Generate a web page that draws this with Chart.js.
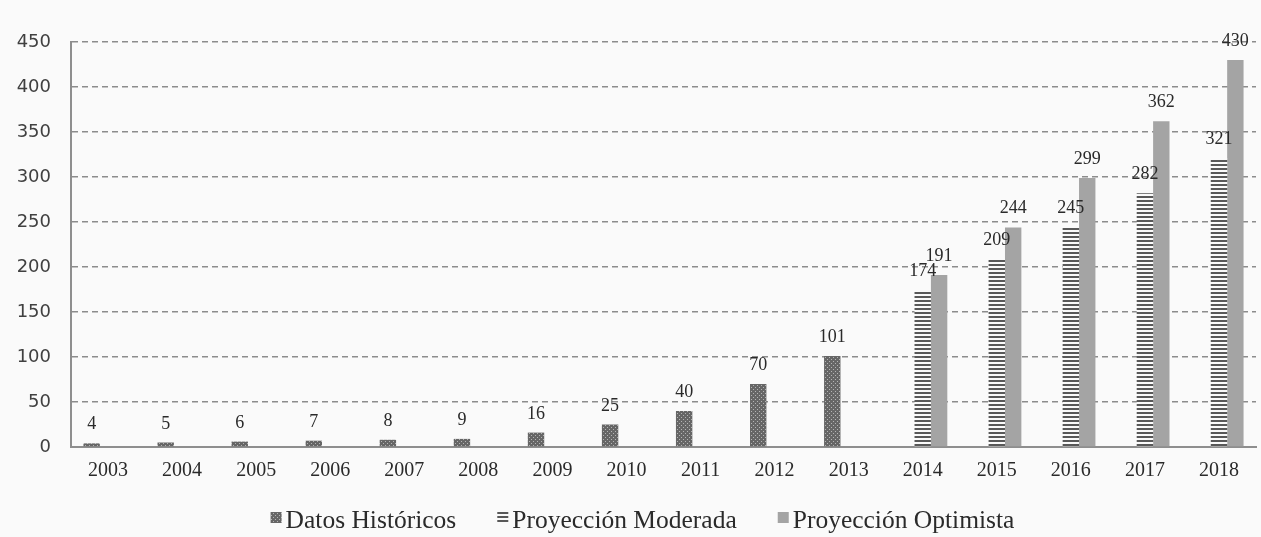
<!DOCTYPE html>
<html>
<head>
<meta charset="utf-8">
<script src="https://cdn.jsdelivr.net/npm/chart.js@4.4.1/dist/chart.umd.min.js"></script>
<style>
  html, body { margin: 0; padding: 0; background: #fafafa; }
  canvas { display: block; }
</style>
</head>
<body>
<canvas id="chart" width="1261" height="537"></canvas>
<script>
// Years on the category axis
const years = ['2003','2004','2005','2006','2007','2008','2009','2010','2011','2012','2013','2014','2015','2016','2017','2018'];

// Series values (null where a series has no bar for that year)
const historicos = [4, 5, 6, 7, 8, 9, 16, 25, 40, 70, 101, null, null, null, null, null];
const moderada   = [null, null, null, null, null, null, null, null, null, null, null, 174, 209, 245, 282, 321];
const optimista  = [null, null, null, null, null, null, null, null, null, null, null, 191, 244, 299, 362, 430];

// Series names
const seriesNames = ['Datos Históricos', 'Proyección Moderada', 'Proyección Optimista'];

// Value axis range
const yMin = 0, yMax = 450, yStep = 50;

// --- fill patterns -------------------------------------------------------
function makePattern(w, h, paint) {
  const c = document.createElement('canvas');
  c.width = w; c.height = h;
  const g = c.getContext('2d');
  paint(g);
  return document.getElementById('chart').getContext('2d').createPattern(c, 'repeat');
}

// dark gray with light dots
const dottedFill = makePattern(4, 4, g => {
  g.fillStyle = '#666666'; g.fillRect(0, 0, 4, 4);
  g.fillStyle = '#b4b4b4';
  g.fillRect(1, 1, 1, 1);
  g.fillRect(3, 3, 1, 1);
});

// horizontal stripes
const stripedFill = makePattern(4, 4, g => {
  g.fillStyle = '#fafafa'; g.fillRect(0, 0, 4, 4);
  g.fillStyle = '#585858'; g.fillRect(0, 0, 4, 2);
});

const solidFill = '#a4a4a4';

// --- plugins -------------------------------------------------------------
const background = {
  id: 'background',
  beforeDraw(chart) {
    const ctx = chart.ctx;
    ctx.save();
    ctx.fillStyle = '#fafafa';
    ctx.fillRect(0, 0, chart.width, chart.height);
    ctx.restore();
  }
};

// value written above each bar
const valueLabels = {
  id: 'valueLabels',
  afterDatasetsDraw(chart) {
    const ctx = chart.ctx;
    ctx.save();
    ctx.font = '18px "Liberation Serif"';
    ctx.fillStyle = '#2a2a2a';
    ctx.textAlign = 'center';
    ctx.textBaseline = 'alphabetic';
    chart.data.datasets.forEach((ds, i) => {
      const meta = chart.getDatasetMeta(i);
      meta.data.forEach((bar, j) => {
        const v = ds.data[j];
        if (v === null || v === undefined) return;
        ctx.fillText(String(v), bar.x, bar.y - 14);
      });
    });
    ctx.restore();
  }
};

// legend row below the axis
const bottomLegend = {
  id: 'bottomLegend',
  afterDraw(chart) {
    const ctx = chart.ctx;
    ctx.save();
    ctx.font = '25.5px "Liberation Serif"';
    ctx.textAlign = 'left';
    ctx.textBaseline = 'alphabetic';
    const box = 11, gap = 4, spacing = 41;
    const items = chart.data.datasets.map(ds => ({
      text: ds.label,
      fill: ds.backgroundColor,
      w: box + gap + ctx.measureText(ds.label).width
    }));
    const total = items.reduce((s, it) => s + it.w, 0) + spacing * (items.length - 1);
    let x = (chart.width - total) / 2 + 12;
    const baseline = chart.height - 9;
    items.forEach(it => {
      ctx.fillStyle = it.fill;
      ctx.fillRect(x, baseline - 16, box, box);
      ctx.fillStyle = '#2a2a2a';
      ctx.fillText(it.text, x + box + gap, baseline);
      x += it.w + spacing;
    });
    ctx.restore();
  }
};

// --- chart ---------------------------------------------------------------
new Chart(document.getElementById('chart'), {
  type: 'bar',
  data: {
    labels: years,
    datasets: [
      { label: seriesNames[0], data: historicos, backgroundColor: dottedFill },
      { label: seriesNames[1], data: moderada,   backgroundColor: stripedFill },
      { label: seriesNames[2], data: optimista,  backgroundColor: solidFill }
    ]
  },
  options: {
    responsive: false,
    animation: false,
    devicePixelRatio: 1,
    layout: { padding: { top: 42, right: 5, bottom: 0, left: 0 } },
    datasets: {
      bar: { categoryPercentage: 0.664, barPercentage: 1.0, borderWidth: 0 }
    },
    plugins: {
      legend: { display: false },
      tooltip: { enabled: false }
    },
    scales: {
      x: {
        grid: { display: false, drawTicks: false },
        border: { display: true, color: '#8e8e8e', width: 2 },
        ticks: {
          font: { family: 'Liberation Serif', size: 20 },
          color: '#2a2a2a',
          padding: 12,
          maxRotation: 0,
          autoSkip: false
        },
        afterFit(scale) { scale.height = 90; }
      },
      y: {
        min: yMin,
        max: yMax,
        grid: { color: '#8c8c8c', lineWidth: 1.5, drawTicks: false },
        border: { display: true, color: '#8e8e8e', width: 2, dash: [6, 4] },
        ticks: {
          stepSize: yStep,
          font: { family: 'DejaVu Sans', size: 18 },
          color: '#404040',
          padding: 20
        },
        afterFit(scale) { scale.width = 71; }
      }
    }
  },
  plugins: [background, valueLabels, bottomLegend]
});
</script>
</body>
</html>
